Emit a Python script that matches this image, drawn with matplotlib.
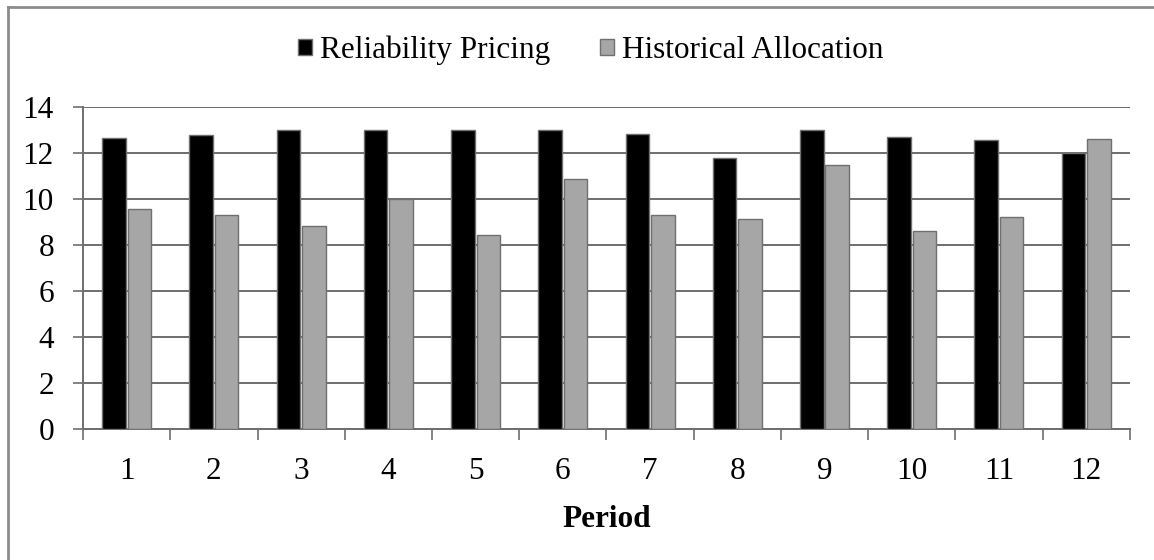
import numpy as np
import matplotlib.pyplot as plt
from matplotlib.lines import Line2D
from matplotlib.ticker import MultipleLocator, FixedLocator

plt.rcParams['font.family'] = ['Liberation Serif', 'DejaVu Serif']

periods = [1, 2, 3, 4, 5, 6, 7, 8, 9, 10, 11, 12]
reliability_pricing = [12.65, 12.8, 13.0, 13.0, 13.0, 13.0, 12.84, 11.78, 13.0, 12.71, 12.55, 12.0]
historical_allocation = [9.58, 9.32, 8.83, 10.0, 8.42, 10.86, 9.32, 9.12, 11.48, 8.61, 9.22, 12.59]

fig = plt.figure(figsize=(11.54, 5.6), dpi=100)
ax = fig.add_axes([0.072, 0.234, 0.907, 0.575])

x = np.array(periods)
w = 0.27
ax.bar(x - 0.146, reliability_pricing, w, color='black', edgecolor='#707070',
       linewidth=1, label='Reliability Pricing', zorder=3)
ax.bar(x + 0.146, historical_allocation, w, color='#a6a6a6', edgecolor='#707070',
       linewidth=1, label='Historical Allocation', zorder=3)

ax.set_xlim(0.5, 12.5)
ax.set_ylim(0, 14)
ax.yaxis.set_major_locator(MultipleLocator(2))
ax.set_xticks(periods)
ax.xaxis.set_minor_locator(FixedLocator(np.arange(0.5, 13, 1)))
ax.grid(axis='y', color='#6e6e6e', linewidth=1.4, zorder=0)

for s in ['top', 'right']:
    ax.spines[s].set_visible(False)
for s in ['left', 'bottom']:
    ax.spines[s].set_color('#6e6e6e')
    ax.spines[s].set_linewidth(1.4)

ax.tick_params(axis='y', length=7, width=1.2, color='#6e6e6e', pad=14, labelsize=22.5)
ax.tick_params(axis='x', which='major', length=0, pad=20, labelsize=22.5)
ax.tick_params(axis='x', which='minor', length=8, width=1.2, color='#6e6e6e')
ax.set_xlabel('Period', fontsize=22.5, fontweight='bold', labelpad=14)

fig.legend(loc='center', bbox_to_anchor=(0.512, 0.91), ncol=2, frameon=False,
           fontsize=22.5, handlelength=0.45, handleheight=0.45, handletextpad=0.25,
           columnspacing=1.6)

# frame lines along the left and top edges
fig.add_artist(Line2D([0.0065, 0.0065], [0, 0.988], color='#8c8c8c', linewidth=2,
                      transform=fig.transFigure))
fig.add_artist(Line2D([0.0065, 1], [0.988, 0.988], color='#8c8c8c', linewidth=2,
                      transform=fig.transFigure))

fig.savefig('out.png', dpi=100)
